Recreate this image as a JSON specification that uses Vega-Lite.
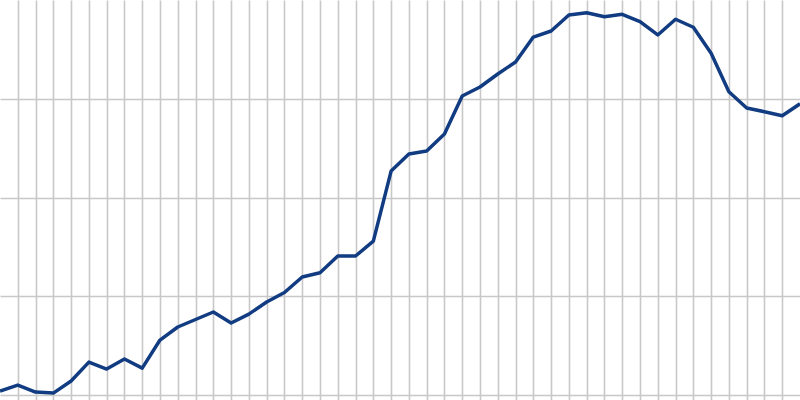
{
  "$schema": "https://vega.github.io/schema/vega-lite/v6.json",
  "width": 800,
  "height": 400,
  "autosize": {"type": "fit", "contains": "padding"},
  "padding": 0,
  "background": "white",
  "config": {"view": {"stroke": null}},
  "data": {"values": [
    {"t": 0, "v": 0.41}, {"t": 1, "v": 1.01}, {"t": 2, "v": 0.30}, {"t": 3, "v": 0.20},
    {"t": 4, "v": 1.42}, {"t": 5, "v": 3.34}, {"t": 6, "v": 2.63}, {"t": 7, "v": 3.65},
    {"t": 8, "v": 2.73}, {"t": 9, "v": 5.57}, {"t": 10, "v": 6.89}, {"t": 11, "v": 7.65},
    {"t": 12, "v": 8.41}, {"t": 13, "v": 7.29}, {"t": 14, "v": 8.20}, {"t": 15, "v": 9.42},
    {"t": 16, "v": 10.38}, {"t": 17, "v": 11.95}, {"t": 18, "v": 12.38}, {"t": 19, "v": 14.08},
    {"t": 20, "v": 14.08}, {"t": 21, "v": 15.59}, {"t": 22, "v": 22.68}, {"t": 23, "v": 24.41},
    {"t": 24, "v": 24.71}, {"t": 25, "v": 26.43}, {"t": 26, "v": 30.28}, {"t": 27, "v": 31.19},
    {"t": 28, "v": 32.51}, {"t": 29, "v": 33.72}, {"t": 30, "v": 36.25}, {"t": 31, "v": 36.86},
    {"t": 32, "v": 38.48}, {"t": 33, "v": 38.71}, {"t": 34, "v": 38.31}, {"t": 35, "v": 38.55},
    {"t": 36, "v": 37.82}, {"t": 37, "v": 36.46}, {"t": 38, "v": 38.05}, {"t": 39, "v": 37.24},
    {"t": 40, "v": 34.60}, {"t": 41, "v": 30.71}, {"t": 42, "v": 29.06}, {"t": 43, "v": 28.69},
    {"t": 44, "v": 28.28}, {"t": 45, "v": 29.49}
  ]},
  "mark": {"type": "line", "color": "#123c82", "strokeWidth": 3.5, "clip": true, "strokeJoin": "round"},
  "encoding": {
    "x": {
      "field": "t", "type": "quantitative",
      "scale": {"domain": [0, 45], "nice": false, "zero": false},
      "axis": {"title": null, "labels": false, "ticks": false, "domain": false,
               "grid": true, "gridColor": "#c8c8c8", "gridWidth": 1.6, "gridOpacity": 1,
               "values": [1,2,3,4,5,6,7,8,9,10,11,12,13,14,15,16,17,18,19,20,21,22,23,24,25,26,27,28,29,30,31,32,33,34,35,36,37,38,39,40,41,42,43,44]}
    },
    "y": {
      "field": "v", "type": "quantitative",
      "scale": {"domain": [-0.5, 40], "nice": false, "zero": false},
      "axis": {"title": null, "labels": false, "ticks": false, "domain": false,
               "grid": true, "gridColor": "#c8c8c8", "gridWidth": 1.6, "gridOpacity": 1,
               "values": [0, 10, 20, 30]}
    }
  }
}
